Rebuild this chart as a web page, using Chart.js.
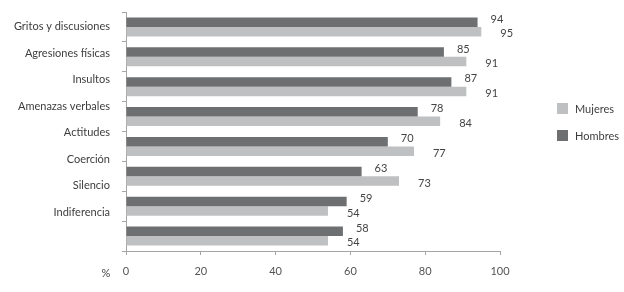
<!DOCTYPE html>
<html>
<head>
<meta charset="utf-8">
<script src="https://cdn.jsdelivr.net/npm/chart.js@4.4.0/dist/chart.umd.min.js"></script>
<style>
    html, body { margin: 0; padding: 0; background: #fff; }
    #wrap { width: 624px; height: 292px; }
</style>
</head>
<body>
<div id="wrap"><canvas id="chart" width="624" height="292"></canvas></div>
<script>
const categories = ['Gritos y discusiones', 'Agresiones físicas', 'Insultos', 'Amenazas verbales', 'Actitudes', 'Coerción', 'Silencio', 'Indiferencia'];
const hombres = [94, 85, 87, 78, 70, 63, 59, 58];
const mujeres = [95, 91, 91, 84, 77, 73, 54, 54];
const xTicks = [0, 20, 40, 60, 80, 100];

const darkGrey = '#6e6f71';
const lightGrey = '#bfc0c2';
const textColor = '#3d3d3d';
const font = 'Lato';

// labels, values, legend and the % sign are painted here
const extras = {
    id: 'extras',
    afterDraw(chart) {
        const ctx = chart.ctx;
        const y = chart.scales.y;
        const x = chart.scales.x;
        ctx.save();
        ctx.font = '11px ' + font;
        ctx.fillStyle = textColor;

        // category labels (spaced a bit tighter than the bars, as in the source)
        const p0 = y.getPixelForValue(0);
        const step = y.getPixelForValue(1) - p0;
        ctx.textAlign = 'right';
        ctx.textBaseline = 'middle';
        categories.forEach((c, i) => {
            ctx.fillText(c, 110, p0 + i * step * 0.886);
        });

        // value labels
        ctx.textAlign = 'left';
        ctx.fillStyle = '#444';
        chart.getDatasetMeta(0).data.forEach((bar, i) => {
            ctx.fillText(chart.data.datasets[0].data[i], bar.x + 13, bar.y - 3);
        });
        chart.getDatasetMeta(1).data.forEach((bar, i) => {
            ctx.fillText(chart.data.datasets[1].data[i], bar.x + 19, bar.y + 2);
        });

        // % sign next to the 0 tick
        ctx.textAlign = 'center';
        ctx.fillText('%', 106, x.bottom - 19);

        // legend
        ctx.textAlign = 'left';
        ctx.fillStyle = lightGrey;
        ctx.fillRect(557, 103, 11, 11);
        ctx.fillStyle = darkGrey;
        ctx.fillRect(557, 130, 11, 11);
        ctx.fillStyle = textColor;
        ctx.fillText('Mujeres', 575, 109);
        ctx.fillText('Hombres', 575, 136);
        ctx.restore();
    }
};

const ctx = document.getElementById('chart').getContext('2d');
new Chart(ctx, {
    type: 'bar',
    data: {
        labels: categories,
        datasets: [
            {
                label: 'Hombres',
                data: hombres,
                backgroundColor: darkGrey,
                barPercentage: 1,
                categoryPercentage: 0.64
            },
            {
                label: 'Mujeres',
                data: mujeres,
                backgroundColor: lightGrey,
                barPercentage: 1,
                categoryPercentage: 0.64
            }
        ]
    },
    options: {
        indexAxis: 'y',
        responsive: false,
        animation: false,
        layout: { padding: { top: 12, right: 124, left: 0, bottom: 0 } },
        plugins: {
            legend: { display: false },
            tooltip: { enabled: false }
        },
        scales: {
            x: {
                min: 0,
                max: 100,
                afterBuildTicks: (scale) => { scale.ticks = xTicks.map(v => ({ value: v })); },
                afterFit: (scale) => { scale.height = 41; },
                border: { color: '#a5a5a5' },
                grid: { drawOnChartArea: false, tickLength: 4, color: '#a5a5a5' },
                ticks: { color: '#555', padding: 10, font: { family: font, size: 11 } }
            },
            y: {
                afterFit: (scale) => { scale.width = 126; },
                border: { color: '#a5a5a5' },
                grid: { drawOnChartArea: false, tickLength: 4, color: '#a5a5a5', offset: true },
                ticks: { display: false }
            }
        }
    },
    plugins: [extras]
});
</script>
</body>
</html>
